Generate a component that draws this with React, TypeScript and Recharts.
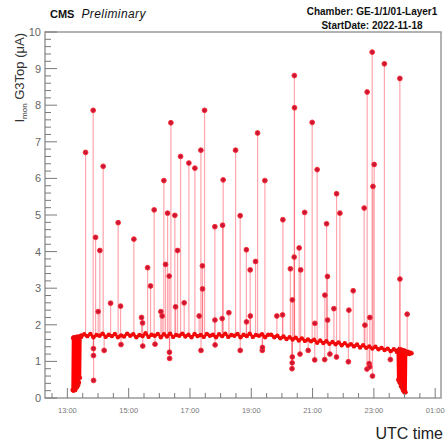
// Chamber GE-1/1/01 Layer1 — G3Top monitored current over one run day.
// ROOT-style look: grey frame, inward ticks, red markers joined by thin lines.
import React from "react";
import {
  ComposedChart,
  Line,
  Scatter,
  ErrorBar,
  XAxis,
  YAxis,
  ReferenceArea,
} from "recharts";

const FONT = "'Liberation Sans', Arial, Helvetica, sans-serif";

// x is decimal UTC hours (24.5 = 00:30 on the next day)
const X_MIN = 12.27;
const X_MAX = 25.19;
const X_TICKS = [
  12.5, 13, 13.5, 14, 14.5, 15, 15.5, 16, 16.5, 17, 17.5, 18, 18.5, 19, 19.5,
  20, 20.5, 21, 21.5, 22, 22.5, 23, 23.5, 24, 24.5, 25,
];
const X_LABEL_HOURS = [13, 15, 17, 19, 21, 23, 25];
const X_LABEL_TEXT = ["13:00", "15:00", "17:00", "19:00", "21:00", "23:00", "01:00"];

const Y_TICKS = [
  0, 0.2, 0.4, 0.6, 0.8, 1, 1.2, 1.4, 1.6, 1.8, 2, 2.2, 2.4, 2.6, 2.8, 3, 3.2,
  3.4, 3.6, 3.8, 4, 4.2, 4.4, 4.6, 4.8, 5, 5.2, 5.4, 5.6, 5.8, 6, 6.2, 6.4, 6.6,
  6.8, 7, 7.2, 7.4, 7.6, 7.8, 8, 8.2, 8.4, 8.6, 8.8, 9, 9.2, 9.4, 9.6, 9.8, 10,
];

// steady current trace (incl. the ramp at start and the drop at the end)
const BASE_T = [
  13.17, 13.185, 13.2, 13.215, 13.23, 13.245, 13.26, 13.275, 13.29, 13.305,
  13.32, 13.335, 13.35, 13.365, 13.38, 13.395, 13.41, 13.425, 13.44,
  13.45, 13.55, 13.65, 13.75, 13.85, 13.95, 14.05, 14.15, 14.25, 14.35,
  14.45, 14.55, 14.65, 14.75, 14.85, 14.95, 15.05, 15.15, 15.25, 15.35,
  15.45, 15.55, 15.65, 15.75, 15.85, 15.95, 16.05, 16.15, 16.25, 16.35,
  16.45, 16.55, 16.65, 16.75, 16.85, 16.95, 17.05, 17.15, 17.25, 17.35,
  17.45, 17.55, 17.65, 17.75, 17.85, 17.95, 18.05, 18.15, 18.25, 18.35,
  18.45, 18.55, 18.65, 18.75, 18.85, 18.95, 19.05, 19.15, 19.25, 19.35,
  19.45, 19.55, 19.65, 19.75, 19.85, 19.95, 20.05, 20.15, 20.25, 20.35,
  20.45, 20.55, 20.65, 20.75, 20.85, 20.95, 21.05, 21.15, 21.25, 21.35,
  21.45, 21.55, 21.65, 21.75, 21.85, 21.95, 22.05, 22.15, 22.25, 22.35,
  22.45, 22.55, 22.65, 22.75, 22.85, 22.95, 23.05, 23.15, 23.25, 23.35,
  23.45, 23.55, 23.65, 23.75,
  23.78, 23.795, 23.81, 23.825, 23.84, 23.855, 23.87, 23.885, 23.9, 23.915,
  23.93, 23.945, 23.96, 23.975, 23.99, 24.005, 24.02, 24.035, 24.05,
  24.08, 24.12, 24.16, 24.2, 24.23,
];
const BASE_V = [
  0.22, 1.64, 0.2, 1.66, 0.24, 1.65, 0.22, 1.67, 0.28, 1.66,
  0.3, 1.68, 0.35, 1.66, 0.42, 1.67, 0.55, 1.68, 1.7,
  1.67, 1.74, 1.69, 1.75, 1.66, 1.72, 1.7, 1.76, 1.67, 1.73,
  1.69, 1.75, 1.66, 1.71, 1.68, 1.76, 1.7, 1.74, 1.66, 1.72,
  1.69, 1.77, 1.67, 1.73, 1.7, 1.75, 1.66, 1.74, 1.68, 1.76,
  1.67, 1.72, 1.7, 1.76, 1.68, 1.73, 1.66, 1.75, 1.69, 1.72,
  1.67, 1.75, 1.7, 1.73, 1.66, 1.74, 1.69, 1.76, 1.67, 1.72,
  1.7, 1.75, 1.66, 1.73, 1.69, 1.76, 1.67, 1.72, 1.7, 1.74,
  1.66, 1.73, 1.73, 1.66, 1.7, 1.63, 1.68, 1.61, 1.66, 1.6,
  1.65, 1.57, 1.63, 1.56, 1.6, 1.55, 1.59, 1.51, 1.57, 1.5,
  1.55, 1.48, 1.53, 1.47, 1.52, 1.44, 1.5, 1.43, 1.47, 1.41,
  1.46, 1.38, 1.44, 1.37, 1.41, 1.35, 1.4, 1.33, 1.37, 1.31,
  1.35, 1.28, 1.33, 1.26,
  1.3, 0.5, 1.32, 0.45, 1.28, 0.4, 1.33, 0.32, 1.3, 0.28,
  1.31, 0.22, 1.29, 0.18, 1.3, 0.15, 1.28, 0.16, 1.27,
  1.21, 1.26, 1.2, 1.24, 1.22,
];

// excursions off the steady trace: spikes up and dips down
const EVENT_T = [
  13.594, 13.842, 13.85, 13.852, 13.855, 13.92, 14.005, 14.06, 14.168, 14.2,
  14.41, 14.657, 14.736, 14.75, 15.17, 15.42, 15.453, 15.46, 15.617, 15.714,
  15.832, 15.86, 16.05, 16.093, 16.148, 16.204, 16.269, 16.321, 16.33, 16.335,
  16.377, 16.507, 16.53, 16.595, 16.693, 16.811, 16.964, 17.16, 17.3, 17.356,
  17.36, 17.405, 17.41, 17.476, 17.812, 17.815, 17.82, 18.05, 18.064, 18.083,
  18.269, 18.488, 18.638, 18.64, 18.84, 18.845, 18.964, 18.97, 19.14, 19.206,
  19.36, 19.365, 19.444, 19.835, 20.02, 20.031, 20.276, 20.33, 20.335, 20.338,
  20.341, 20.4, 20.406, 20.41, 20.563, 20.59, 20.612, 20.742, 20.857, 20.987,
  21.07, 21.075, 21.15, 21.395, 21.401, 21.457, 21.485, 21.49, 21.565, 21.695,
  21.78, 21.783, 21.891, 22.168, 22.184, 22.325, 22.684, 22.707, 22.775, 22.781,
  22.847, 22.865, 22.87, 22.945, 22.955, 22.97, 23.01, 23.343, 23.538, 23.848,
  23.85, 24.086,
];
const EVENT_V = [
  6.71, 7.86, 1.35, 1.16, 0.48, 4.39, 2.36, 4.03, 6.33, 1.3,
  2.59, 4.79, 2.51, 1.46, 4.34, 2.2, 2.05, 1.42, 3.56, 3.06,
  5.14, 1.47, 2.36, 2.24, 5.94, 3.65, 5.05, 3.33, 1.25, 1.08,
  7.52, 4.99, 2.49, 4.03, 6.6, 2.6, 6.42, 6.28, 2.24, 6.77,
  1.3, 3.61, 2.98, 7.86, 4.68, 2.13, 1.45, 2.17, 4.72, 5.96,
  2.33, 6.77, 4.98, 1.3, 4.05, 2.08, 3.5, 2.24, 3.73, 7.24,
  1.3, 1.38, 5.94, 2.24, 2.27, 4.87, 3.53, 0.8, 0.96, 1.12,
  2.68, 3.85, 8.81, 7.93, 4.1, 1.2, 3.5, 5.07, 1.3, 7.53,
  1.04, 2.04, 6.24, 1.05, 2.81, 4.76, 3.32, 2.13, 1.2, 2.44,
  1.12, 5.58, 5.05, 0.99, 2.4, 2.93, 5.19, 1.99, 0.79, 8.36,
  0.94, 0.85, 2.2, 9.45, 0.6, 5.78, 6.38, 9.13, 1.05, 8.73,
  3.25, 2.29,
];

const baseData = BASE_T.map((t, i) => ({ t, v: BASE_V[i] }));

function baseAt(t: number) {
  let best = 0;
  BASE_T.forEach((bt, i) => {
    if (Math.abs(bt - t) < Math.abs(BASE_T[best] - t)) best = i;
  });
  return BASE_V[best];
}

// the vertical segment back to the trace is drawn as an asymmetric error bar
const eventData = EVENT_T.map((t, i) => {
  const v = EVENT_V[i];
  const b = baseAt(t);
  return { t, v, err: v > b ? [v - b, 0] : [0, b - v] };
});

function TimeTick(props: any) {
  const { x, y, payload } = props;
  const idx = X_LABEL_HOURS.indexOf(payload.value);
  const major = idx >= 0;
  return (
    <g>
      <line x1={x} x2={x} y1={y} y2={y - (major ? 10 : 5)} stroke="#7a7a7a" strokeWidth={1} />
      {major && (
        <text x={x} y={y + 15} textAnchor="middle" fontSize={7.5} fill="#777" fontFamily={FONT}>
          {X_LABEL_TEXT[idx]}
        </text>
      )}
    </g>
  );
}

function CurrentTick(props: any) {
  const { x, y, payload } = props;
  const major = Number.isInteger(payload.value);
  return (
    <g>
      <line x1={x} x2={x + (major ? 12 : 6)} y1={y} y2={y} stroke="#7a7a7a" strokeWidth={1} />
      {major && (
        <text x={x - 4} y={y + 4} textAnchor="end" fontSize={11} fill="#666" fontFamily={FONT}>
          {payload.value}
        </text>
      )}
    </g>
  );
}

function YTitle() {
  return (
    <text
      transform="rotate(-90 24 33)"
      x={24}
      y={33}
      textAnchor="end"
      fontFamily={FONT}
      fontSize={13}
      fill="#333"
    >
      I<tspan fontSize={8} dy={3}>mon</tspan>
      <tspan dy={-3}> G3Top (μA)</tspan>
    </text>
  );
}

function XTitle() {
  return (
    <text x={443} y={439} textAnchor="end" fontFamily={FONT} fontSize={16} fill="#222">
      UTC time
    </text>
  );
}

const Marker = (p: any) => (
  <circle cx={p.cx} cy={p.cy} r={2.4} fill="#c8163a" stroke="#ff2b2b" strokeWidth={0.9} />
);

export default function App() {
  return (
    <div style={{ position: "relative", width: 448, height: 442, fontFamily: FONT, background: "#fff" }}>
      <style>{"body{margin:0}"}</style>
      <div style={{ position: "absolute", left: 50, top: 9, fontSize: 11, lineHeight: "11px", color: "#111" }}>
        <b>CMS</b>
        <i style={{ marginLeft: 7, fontSize: 12, letterSpacing: 0.4 }}>Preliminary</i>
      </div>
      <div
        style={{
          position: "absolute",
          left: 272,
          width: 200,
          top: 5,
          textAlign: "center",
          fontSize: 10,
          lineHeight: "13.5px",
          fontWeight: "bold",
          color: "#111",
        }}
      >
        <div>Chamber: GE-1/1/01-Layer1</div>
        <div>StartDate: 2022-11-18</div>
      </div>
      <ComposedChart width={448} height={442} margin={{ top: 32, right: 7, bottom: 0, left: 0 }}>
        <XAxis
          type="number"
          dataKey="t"
          domain={[X_MIN, X_MAX]}
          allowDataOverflow
          ticks={X_TICKS}
          interval={0}
          tick={<TimeTick />}
          tickLine={false}
          axisLine={false}
          tickSize={0}
          tickMargin={0}
          height={44}
          label={<XTitle />}
        />
        <YAxis
          type="number"
          dataKey="v"
          domain={[0, 10]}
          allowDataOverflow
          ticks={Y_TICKS}
          interval={0}
          tick={<CurrentTick />}
          tickLine={false}
          axisLine={false}
          tickSize={0}
          tickMargin={0}
          width={45}
          label={<YTitle />}
        />
        <Scatter data={eventData} dataKey="v" shape={Marker} isAnimationActive={false}>
          <ErrorBar
            dataKey="err"
            direction="y"
            width={0}
            stroke="#ff4d5e"
            strokeOpacity={0.5}
            strokeWidth={1.2}
            isAnimationActive={false}
          />
        </Scatter>
        <Line
          data={baseData}
          dataKey="v"
          type="linear"
          stroke="#ff0000"
          strokeWidth={2.6}
          dot={{ r: 2.2, fill: "#f00a0a", stroke: "none" }}
          isAnimationActive={false}
        />
        <ReferenceArea
          x1={X_MIN}
          x2={X_MAX}
          y1={0}
          y2={10}
          fill="none"
          stroke="#9a9a9a"
          strokeWidth={1.5}
        />
      </ComposedChart>
    </div>
  );
}
